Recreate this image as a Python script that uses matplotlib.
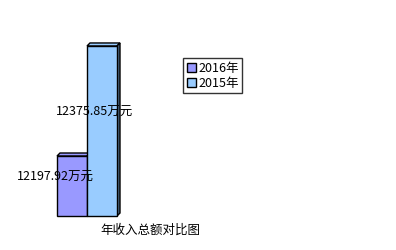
import matplotlib
matplotlib.use('Agg')
import matplotlib.pyplot as plt
from matplotlib.patches import Polygon, Patch

plt.rcParams['font.family'] = ['Noto Sans CJK SC', 'DejaVu Sans']

# data
years = ['2016年', '2015年']
income = [12197.92, 12375.85]
labels = ['12197.92万元', '12375.85万元']
colors = ['#9999FF', '#99CCFF']
side_color = '#4A6480'
title = '年收入总额对比图'

W, H = 396, 250
fig = plt.figure(figsize=(W / 100, H / 100), dpi=100)
fig.patch.set_facecolor('white')

# axes placed so bar bottoms sit at y=216px, bars 30px wide starting at x=57px
ymin, ymax = 12100.9, 12385.5
ax = fig.add_axes([57 / W, 1 - 216 / H, 60 / W, 176 / H])
ax.set_xlim(0, 2)
ax.set_ylim(ymin, ymax)
ax.axis('off')

# pixel offsets for the 3d depth
dx = 3 / 30.0
dy = 3 / (176 / (ymax - ymin))

for i, (v, c) in enumerate(zip(income, colors)):
    x0, x1 = i, i + 1
    # top face
    ax.add_patch(Polygon([(x0, v), (x0 + dx, v + dy), (x1 + dx, v + dy), (x1, v)],
                         closed=True, facecolor=c, edgecolor='black', lw=1, clip_on=False, zorder=2 + i))
    # side face
    ax.add_patch(Polygon([(x1, ymin), (x1 + dx, ymin + dy), (x1 + dx, v + dy), (x1, v)],
                         closed=True, facecolor=side_color, edgecolor='black', lw=1, clip_on=False, zorder=2 + i))
    ax.bar(x0, v - ymin, bottom=ymin, width=1, align='edge', color=c,
           edgecolor='black', linewidth=1, clip_on=False, zorder=3 + i)

# data labels
fig.text(55 / W, 1 - 177 / H, labels[0], ha='center', va='center', fontsize=9, zorder=10)
fig.text(95 / W, 1 - 112 / H, labels[1], ha='center', va='center', fontsize=9, zorder=10)

# title at the bottom
fig.text(150 / W, 1 - 230 / H, title, ha='center', va='center', fontsize=9)

handles = [Patch(facecolor=c, edgecolor='black', linewidth=1) for c in colors]
leg = fig.legend(handles, years, loc='upper left', bbox_to_anchor=(183 / W, 1 - 58 / H),
                 fontsize=9, frameon=True, fancybox=False, edgecolor='black',
                 handlelength=0.7, handleheight=0.7, handletextpad=0.2,
                 borderpad=0.3, labelspacing=0.15, borderaxespad=0)
leg.get_frame().set_linewidth(1)

fig.savefig('out.png', dpi=100, facecolor='white')
